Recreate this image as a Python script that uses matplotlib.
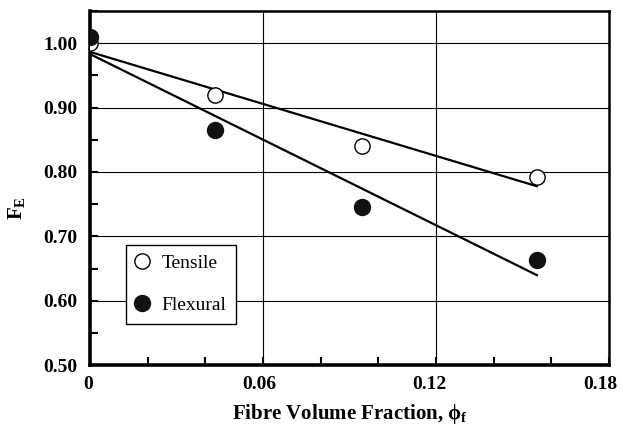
import numpy as np
import matplotlib
matplotlib.use("Agg")
import matplotlib.pyplot as plt
import matplotlib.transforms as mtransforms
from matplotlib.ticker import FixedLocator, MultipleLocator, FuncFormatter

plt.rcParams['font.family'] = ['Liberation Serif', 'DejaVu Serif']
plt.rcParams['mathtext.fontset'] = 'custom'
plt.rcParams['mathtext.rm'] = 'Liberation Serif'
plt.rcParams['mathtext.it'] = 'Liberation Serif:italic'
plt.rcParams['mathtext.bf'] = 'Liberation Serif:bold'

# data
phi_f = [0.0, 0.0434, 0.0944, 0.155]
tensile = [1.000, 0.920, 0.840, 0.792]
flexural = [1.010, 0.865, 0.746, 0.663]
xtick_vals = [0, 0.06, 0.12, 0.18]
ytick_vals = [0.5, 0.6, 0.7, 0.8, 0.9, 1.0]

fig = plt.figure(figsize=(6.22, 4.25), dpi=100)
ax = fig.add_axes([0.1447, 0.141, 0.8343, 0.833])

# linear fits through each series
xs = np.array(phi_f)
xfit = np.array([0.0, xs.max()])
for ys in (tensile, flexural):
    k, b = np.polyfit(xs, np.array(ys), 1)
    ax.plot(xfit, k * xfit + b, color='black', lw=1.6, zorder=2)

ax.plot(phi_f, tensile, 'o', ms=11, mfc='white', mec='black', mew=1.0,
        label='Tensile', zorder=3)
ax.plot(phi_f, flexural, 'o', ms=11.5, mfc='#111111', mec='#111111',
        label='Flexural', zorder=3)

ax.set_xlim(0, 0.18)
ax.set_ylim(0.5, 1.05)
ax.xaxis.set_major_locator(FixedLocator(xtick_vals))
ax.xaxis.set_minor_locator(MultipleLocator(0.02))
ax.yaxis.set_major_locator(FixedLocator(ytick_vals))
ax.yaxis.set_minor_locator(MultipleLocator(0.05))
ax.xaxis.set_major_formatter(FuncFormatter(lambda v, p: '0' if v == 0 else f'{v:.2f}'))
ax.yaxis.set_major_formatter(FuncFormatter(lambda v, p: f'{v:.2f}'))

ax.tick_params(which='both', direction='in', width=1.5, colors='black')
ax.tick_params(which='major', length=6, labelsize=14)
ax.tick_params(axis='x', which='major', pad=8)
ax.tick_params(axis='y', which='major', pad=9)
ax.tick_params(which='minor', length=6)
for lab in ax.get_xticklabels() + ax.get_yticklabels():
    lab.set_fontweight('bold')

# x labels in the original sit a little left of their ticks
shifts = [-2, -4, -7, -9]
for lab, dx in zip(ax.get_xticklabels(), shifts):
    lab.set_transform(lab.get_transform() +
                      mtransforms.ScaledTranslation(dx / 100, 0, fig.dpi_scale_trans))

ax.grid(True, which='major', color='black', lw=0.8)
ax.set_axisbelow(True)
for side in ('left', 'bottom'):
    ax.spines[side].set_linewidth(2.6)
for side in ('top', 'right'):
    ax.spines[side].set_linewidth(1.8)

ax.set_xlabel(r'Fibre Volume Fraction, $\mathbf{\phi_f}$', fontsize=15,
              fontweight='bold', labelpad=6)
ax.set_ylabel(r'$\mathbf{F_E}$', fontsize=15)
ax.yaxis.set_label_coords(-0.121, 0.444)

leg = ax.legend(loc='lower left', bbox_to_anchor=(0.069, 0.117), borderaxespad=0,
                fontsize=14, frameon=True, fancybox=False, edgecolor='black',
                handletextpad=0.65, labelspacing=1.25, borderpad=0.5, handlelength=0.7)
leg.get_frame().set_linewidth(1.0)
leg.get_frame().set_alpha(1)

fig.savefig('out.png', dpi=100)
